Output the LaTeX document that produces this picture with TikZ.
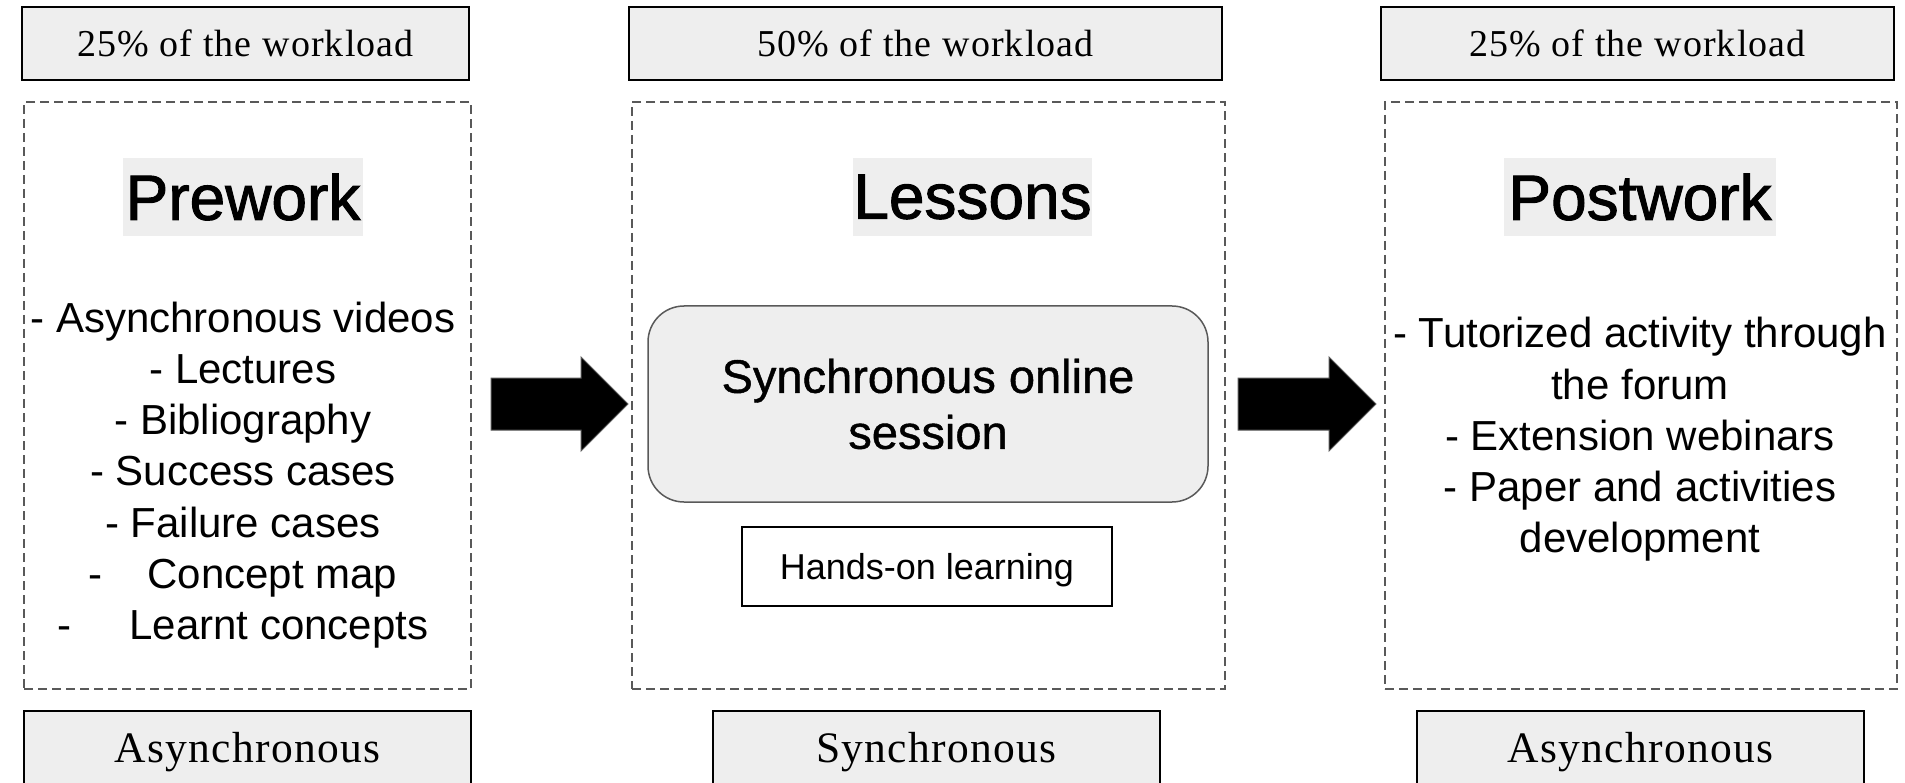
\documentclass[tikz,border=0pt]{standalone}
\usepackage{fontspec}
\setmainfont{Liberation Serif}
\newfontfamily\spacedserif[LetterSpace=3]{Liberation Serif}
\newfontfamily\arialf{Liberation Sans}
\newfontfamily\arialheavy[FakeBold=1.5]{Liberation Sans}
\newfontfamily\arialsemi[FakeBold=0.9]{Liberation Sans}
\definecolor{boxgray}{HTML}{EEEEEE}
\definecolor{lineg}{HTML}{595959}
\begin{document}
\begin{tikzpicture}[x=1pt,y=-1pt,
  topbox/.style={draw=black,line width=1.8pt,fill=boxgray,inner sep=0pt,minimum height=73pt,font=\spacedserif\fontsize{38}{44}\selectfont},
  botbox/.style={draw=black,line width=1.8pt,fill=boxgray,inner sep=0pt,minimum width=447pt,minimum height=102pt,text height=31pt,text depth=31pt,font=\spacedserif\fontsize{43.5}{50}\selectfont},
  dashbox/.style={draw=lineg,line width=1.5pt,dash pattern=on 9pt off 5pt,inner sep=0pt,minimum height=587pt},
  titlebox/.style={fill=boxgray,inner sep=0pt,minimum height=78pt,font=\arialheavy\fontsize{64}{70}\selectfont},
  listline/.style={anchor=base,inner sep=0pt,font=\arialf\fontsize{42}{51}\selectfont},
  sessionbox/.style={draw=lineg,line width=1.5pt,fill=boxgray,rounded corners=36pt,minimum width=560pt,minimum height=196pt,align=center,font=\arialsemi\fontsize{47}{56}\selectfont},
  handsbox/.style={draw=black,line width=1.8pt,inner sep=0pt,minimum width=370pt,minimum height=79pt,text depth=0pt,font=\arialf\fontsize{36}{40}\selectfont},
  blockarrow/.style={fill=black,draw=lineg,line width=1pt}
]
\useasboundingbox (0,0) rectangle (1905,783);
% top workload boxes
\node[topbox,minimum width=447pt] (w1) at (245.5,43.5) {25\% of the workload};
\node[topbox,minimum width=593pt] (w2) at (925.5,43.5) {50\% of the workload};
\node[topbox,minimum width=513pt] (w3) at (1637.5,43.5) {25\% of the workload};
% dashed panels
\node[dashbox,minimum width=447pt] (p1) at (247.5,395.5) {};
\node[dashbox,minimum width=593pt] (p2) at (928.5,395.5) {};
\node[dashbox,minimum width=512pt] (p3) at (1641,395.5) {};
% titles
\node[titlebox,minimum width=240pt] (t1) at (243,197) {Prework};
\node[titlebox,minimum width=235pt] (t2) at (972.5,197) {Lessons};
\node[titlebox,minimum width=272pt] (t3) at (1640,197) {Postwork};
% prework list
\node[listline] (a1) at (243,333) {- Asynchronous videos};
\node[listline] (a2) at (243,383) {- Lectures};
\node[listline] (a3) at (243,434) {- Bibliography};
\node[listline] (a4) at (243,485) {- Success cases};
\node[listline] (a5) at (243,537) {- Failure cases};
\node[listline] (a6) at (243,588) {-\hspace{45pt}Concept map};
\node[listline] (a7) at (243,639) {-\hspace{58pt}Learnt concepts};
% postwork list
\node[listline] (b1) at (1640,348) {- Tutorized activity through};
\node[listline] (b2) at (1640,399) {the forum};
\node[listline] (b3) at (1640,450) {- Extension webinars};
\node[listline] (b4) at (1640,501) {- Paper and activities};
\node[listline] (b5) at (1640,552) {development};
% lessons content
\node[sessionbox] (s) at (928,404) {Synchronous online\\session};
\node[handsbox] (h) at (927,566.5) {Hands-on learning};
% block arrows
\draw[blockarrow] (491,378) -- (581,378) -- (581,357) -- (628,404) -- (581,451) -- (581,430) -- (491,430) -- cycle;
\draw[blockarrow] (1238,378) -- (1329,378) -- (1329,357) -- (1376,404) -- (1329,451) -- (1329,430) -- (1238,430) -- cycle;
% bottom boxes
\node[botbox] (m1) at (247.5,762) {Asynchronous};
\node[botbox] (m2) at (936.5,762) {Synchronous};
\node[botbox] (m3) at (1640.5,762) {Asynchronous};
\end{tikzpicture}
\end{document}
